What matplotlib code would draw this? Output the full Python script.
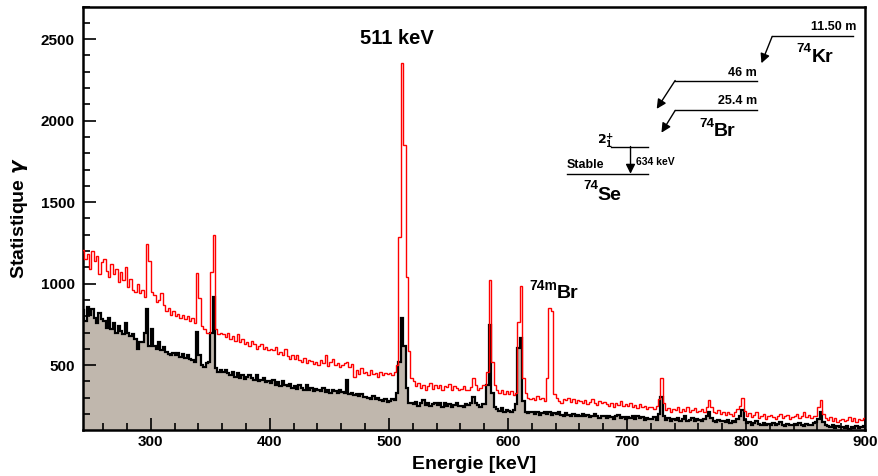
import numpy as np
import matplotlib
matplotlib.use('Agg')
import matplotlib.pyplot as plt
from matplotlib.ticker import MultipleLocator

plt.rcParams['font.family'] = ['Liberation Sans', 'DejaVu Sans']
plt.rcParams['font.weight'] = 'bold'

# 2 keV bins, 240 -> 900 keV (one row = 20 keV)
edges = np.arange(240, 902, 2)

red = [
    1190, 1205, 1150, 1180, 1090, 1200, 1140, 1170, 1060, 1130,
    1150, 1080, 1040, 1120, 1060, 1090, 1010, 1070, 1020, 1100,
    980, 1030, 960, 950, 1000, 940, 960, 920, 1240, 1140,
    950, 930, 890, 900, 940, 870, 830, 850, 810, 830,
    800, 815, 790, 805, 780, 800, 770, 790, 760, 1064,
    910, 740, 720, 700, 700, 1070, 1297, 720, 690, 700,
    690, 670, 700, 660, 680, 650, 690, 640, 660, 630,
    640, 620, 650, 630, 600, 620, 630, 600, 610, 590,
    600, 590, 610, 570, 580, 560, 600, 555, 540, 560,
    540, 560, 530, 520, 545, 510, 530, 525, 505, 520,
    500, 530, 510, 560, 495, 520, 540, 500, 515, 490,
    500, 510, 520, 490, 505, 430, 470, 445, 480, 450,
    460, 440, 470, 445, 450, 430, 455, 440, 450, 445,
    450, 440, 460, 500, 1287, 2354, 1850, 1043, 585, 420,
    400, 370, 390, 360, 380, 350, 370, 390, 355, 375,
    360, 380, 350, 370, 365, 385, 345, 370, 360, 350,
    355, 370, 350, 345, 365, 420, 380, 350, 360, 375,
    380, 460, 1021, 520, 380, 350, 330, 345, 325, 340,
    320, 340, 315, 330, 764, 985, 420, 330, 300, 290,
    300, 285, 310, 290, 300, 280, 420, 850, 830, 320,
    300, 280, 270, 295, 285, 300, 275, 290, 270, 285,
    280, 265, 285, 260, 275, 290, 270, 255, 280, 265,
    275, 260, 250, 270, 245, 265, 255, 280, 250, 260,
    250, 265, 240, 255, 235, 260, 245, 250, 230, 245,
    240, 230, 250, 290, 420, 270, 225, 235, 215, 230,
    225, 240, 215, 230, 220, 245, 210, 225, 235, 215,
    220, 230, 210, 240, 285, 245, 215, 205, 225, 200,
    210, 195, 215, 200, 190, 210, 230, 250, 300, 220,
    190, 205, 180, 195, 210, 175, 190, 200, 170, 185,
    195, 180, 170, 190, 200, 175, 185, 195, 170, 180,
    185, 200, 175, 190, 210, 180, 195, 175, 185, 190,
    240, 285, 200, 175, 165, 180, 160, 175, 150, 165,
    170, 155, 165, 180, 160, 175, 150, 170, 165, 175,
]

black = [
    850, 840, 770, 855, 810, 845, 790, 760, 820, 780,
    770, 730, 790, 720, 760, 700, 740, 710, 690, 760,
    700, 680, 690, 660, 600, 640, 640, 700, 843, 620,
    720, 620, 600, 640, 590, 610, 580, 570, 560, 575,
    560, 575, 550, 570, 545, 560, 540, 530, 520, 702,
    560, 500, 490, 510, 520, 696, 917, 480, 460, 470,
    460, 470, 450, 440, 455, 430, 450, 420, 440, 415,
    430, 440, 420, 410, 440, 400, 410, 420, 395, 400,
    390, 410, 380, 395, 370, 400, 380, 370, 385, 360,
    370, 355, 380, 360, 350, 375, 345, 360, 340, 355,
    350, 340, 360, 335, 350, 330, 345, 340, 330, 345,
    335, 330, 408, 320, 330, 315, 325, 310, 320, 305,
    305, 300, 295, 310, 290, 300, 285, 280, 295, 275,
    280, 290, 285, 330, 520, 788, 620, 360, 270, 265,
    260, 275, 250, 265, 285, 255, 270, 250, 260, 265,
    255, 265, 245, 270, 250, 260, 245, 255, 265, 250,
    250, 245, 260, 255, 270, 304, 265, 255, 240, 260,
    260, 380, 745, 330, 240, 230, 220, 235, 215, 225,
    220, 210, 225, 260, 604, 665, 280, 215, 205, 210,
    215, 200, 210, 195, 205, 215, 200, 210, 195, 205,
    200, 210, 195, 190, 205, 195, 185, 200, 190, 195,
    190, 200, 185, 195, 180, 190, 200, 185, 175, 190,
    185, 175, 190, 180, 170, 185, 195, 175, 180, 170,
    180, 175, 185, 170, 190, 175, 180, 165, 175, 170,
    170, 180, 165, 200, 304, 190, 165, 175, 160, 170,
    165, 175, 160, 170, 185, 160, 165, 175, 155, 170,
    165, 160, 170, 185, 210, 175, 160, 150, 165, 155,
    160, 150, 165, 145, 155, 150, 170, 185, 224, 165,
    145, 150, 135, 145, 155, 140, 130, 145, 135, 140,
    135, 145, 130, 140, 150, 135, 125, 140, 130, 135,
    140, 130, 145, 135, 125, 140, 130, 135, 145, 150,
    170, 212, 150, 130, 125, 120, 130, 115, 125, 120,
    120, 115, 125, 110, 120, 115, 125, 115, 120, 125,
]

fig = plt.figure(figsize=(8.79, 4.76), dpi=100)
ax = fig.add_axes([83/879, 1-429.5/476, 782/879, 423/476])

ax.stairs(black, edges, baseline=0, fill=True, color='#c0b7ad', zorder=1)
ax.stairs(black, edges, baseline=None, color='black', lw=1.6, zorder=2)
ax.stairs(red, edges, baseline=None, color='red', lw=1.0, zorder=3)

ax.set_xlim(243, 900)
ax.set_ylim(105, 2700)
ax.xaxis.set_major_locator(MultipleLocator(100))
ax.xaxis.set_minor_locator(MultipleLocator(20))
ax.yaxis.set_major_locator(MultipleLocator(500))
ax.yaxis.set_minor_locator(MultipleLocator(100))
ax.tick_params(which='both', direction='in', top=False, right=False, width=1.2, labelsize=11)
ax.tick_params(which='major', length=9)
ax.tick_params(axis='y', which='major', pad=6)
ax.tick_params(axis='x', which='major', pad=4)
ax.tick_params(which='minor', length=5)
for s in ax.spines.values():
    s.set_linewidth(1.8)
for lab in ax.get_xticklabels() + ax.get_yticklabels():
    lab.set_fontweight('bold')

ax.set_xlabel('Energie [keV]', fontsize=14, fontweight='bold', labelpad=5)
ax.set_ylabel(r'Statistique $\gamma$', fontsize=14, fontweight='bold', labelpad=8)

# annotations
ax.text(507, 2504, '511 keV', fontsize=14.5, fontweight='bold', ha='center', va='center')
ax.text(618, 985, '74m', fontsize=10, fontweight='bold', ha='left', va='center')
ax.text(641, 939, 'Br', fontsize=14, fontweight='bold', ha='left', va='center')

# decay scheme
arrow = dict(arrowstyle='-|>', color='black', lw=1.0, mutation_scale=14, shrinkA=0, shrinkB=0)
ax.plot([822, 890], [2516, 2516], color='black', lw=1.0)
ax.text(893, 2540, '11.50 m', fontsize=9, fontweight='bold', ha='right', va='bottom')
ax.annotate('', xy=(813, 2352), xytext=(822, 2516), arrowprops=arrow)
ax.text(842, 2440, '74', fontsize=9.5, fontweight='bold', ha='left', va='center')
ax.text(855, 2387, 'Kr', fontsize=14, fontweight='bold', ha='left', va='center')

ax.text(809, 2295, '46 m', fontsize=9, fontweight='bold', ha='right', va='center')
ax.plot([740.5, 809.4], [2246, 2246], color='black', lw=1.0)
ax.annotate('', xy=(725, 2072), xytext=(740.5, 2246), arrowprops=arrow)

ax.text(809, 2123, '25.4 m', fontsize=9, fontweight='bold', ha='right', va='center')
ax.plot([740.5, 809.4], [2062, 2062], color='black', lw=1.0)
ax.annotate('', xy=(729, 1926), xytext=(740.5, 2062), arrowprops=arrow)
ax.text(761, 1980, '74', fontsize=9.5, fontweight='bold', ha='left', va='center')
ax.text(773, 1933, 'Br', fontsize=14, fontweight='bold', ha='left', va='center')

ax.text(675, 1878, r'$\mathbf{2^{+}_{1}}$', fontsize=9, ha='left', va='center')
ax.plot([687, 718], [1841, 1841], color='black', lw=1.0)
ax.annotate('', xy=(703, 1674), xytext=(703, 1841), arrowprops=arrow)
ax.text(708, 1749, '634 keV', fontsize=7.5, fontweight='bold', ha='left', va='center')
ax.text(649.5, 1725, 'Stable', fontsize=9, fontweight='bold', ha='left', va='center')
ax.plot([649.5, 718], [1674, 1674], color='black', lw=1.0)
ax.text(663.5, 1598, '74', fontsize=9.5, fontweight='bold', ha='left', va='center')
ax.text(675, 1541, 'Se', fontsize=14, fontweight='bold', ha='left', va='center')

fig.savefig('out.png', dpi=100)
